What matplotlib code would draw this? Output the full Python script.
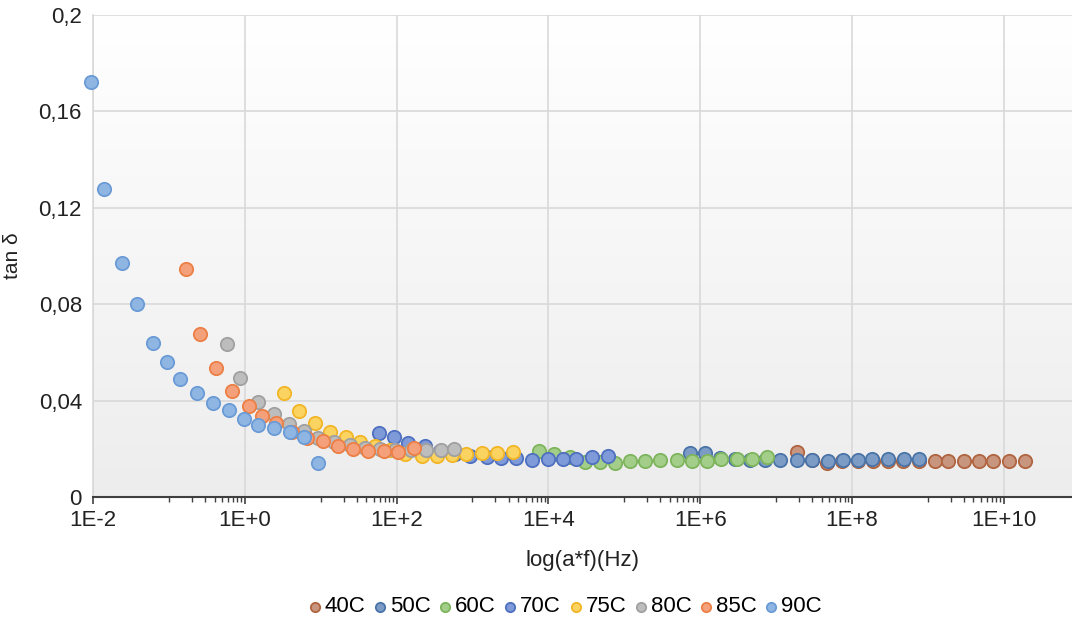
import numpy as np
import matplotlib.pyplot as plt
from matplotlib.colors import LinearSegmentedColormap
from matplotlib.ticker import FixedLocator, FuncFormatter, NullFormatter

plt.rcParams['font.family'] = ['Liberation Sans', 'DejaVu Sans']

# log10 of reduced frequency a*f (Hz) and tan delta
series = ["40C", "50C", "60C", "70C", "75C", "80C", "85C", "90C"]

logf_40 = [7.28, 7.47, 7.67, 7.87, 8.08, 8.28, 8.47, 8.67, 8.88, 9.09, 9.27, 9.48, 9.68, 9.86, 10.07, 10.28]
tan_40 = [0.0188, 0.0155, 0.0140, 0.0148, 0.0150, 0.0150, 0.0150, 0.0150, 0.0150, 0.0151, 0.0151, 0.0151, 0.0151, 0.0151, 0.0151, 0.0151]

logf_50 = [5.87, 6.06, 6.26, 6.46, 6.66, 6.85, 7.05, 7.27, 7.47, 7.69, 7.88, 8.08, 8.27, 8.48, 8.68, 8.88]
tan_50 = [0.0181, 0.0181, 0.0160, 0.0158, 0.0155, 0.0155, 0.0153, 0.0152, 0.0152, 0.0151, 0.0152, 0.0152, 0.0156, 0.0157, 0.0157, 0.0158]

logf_60 = [3.88, 4.07, 4.28, 4.48, 4.68, 4.88, 5.07, 5.27, 5.47, 5.69, 5.89, 6.09, 6.28, 6.48, 6.68, 6.88]
tan_60 = [0.0192, 0.0178, 0.0167, 0.0147, 0.0147, 0.0140, 0.0151, 0.0151, 0.0154, 0.0154, 0.0151, 0.0151, 0.0156, 0.0156, 0.0156, 0.0165]

logf_70 = [1.77, 1.96, 2.15, 2.37, 2.57, 2.77, 2.97, 3.19, 3.38, 3.58, 3.78, 3.99, 4.19, 4.37, 4.58, 4.79]
tan_70 = [0.0264, 0.0250, 0.0225, 0.0212, 0.0190, 0.0180, 0.0172, 0.0165, 0.0160, 0.0160, 0.0153, 0.0156, 0.0158, 0.0158, 0.0167, 0.0170]

logf_75 = [0.52, 0.71, 0.93, 1.12, 1.33, 1.52, 1.72, 1.91, 2.11, 2.33, 2.53, 2.73, 2.92, 3.13, 3.32, 3.53]
tan_75 = [0.0433, 0.0358, 0.0306, 0.0270, 0.0248, 0.0227, 0.0210, 0.0195, 0.0180, 0.0172, 0.0170, 0.0174, 0.0178, 0.0181, 0.0184, 0.0188]

logf_80 = [-0.23, -0.06, 0.18, 0.38, 0.58, 0.78, 0.97, 1.17, 1.38, 1.58, 1.78, 1.98, 2.19, 2.39, 2.59, 2.76]
tan_80 = [0.0635, 0.0495, 0.0393, 0.0343, 0.0302, 0.0272, 0.0245, 0.0230, 0.0215, 0.0205, 0.0198, 0.0195, 0.0193, 0.0193, 0.0195, 0.0199]

logf_85 = [-0.77, -0.59, -0.38, -0.17, 0.05, 0.23, 0.41, 0.62, 0.82, 1.03, 1.23, 1.43, 1.63, 1.83, 2.02, 2.23]
tan_85 = [0.0946, 0.0676, 0.0535, 0.0441, 0.0378, 0.0337, 0.0308, 0.0270, 0.0245, 0.0232, 0.0213, 0.0198, 0.0192, 0.0192, 0.0188, 0.0205]

logf_90 = [-2.03, -1.86, -1.62, -1.42, -1.21, -1.02, -0.85, -0.63, -0.42, -0.21, -0.01, 0.18, 0.38, 0.59, 0.78, 0.97]
tan_90 = [0.172, 0.128, 0.097, 0.080, 0.064, 0.056, 0.049, 0.043, 0.039, 0.036, 0.0325, 0.030, 0.0285, 0.027, 0.025, 0.014]

logfs = [logf_40, logf_50, logf_60, logf_70, logf_75, logf_80, logf_85, logf_90]
tans = [tan_40, tan_50, tan_60, tan_70, tan_75, tan_80, tan_85, tan_90]

fills = ["#C8957F", "#7C9CC6", "#A3CE8A", "#7E9AD8", "#FBD360", "#BDBDBD", "#F4A07A", "#8FB6E3"]
edges = ["#B0643F", "#4A74A8", "#7DB45C", "#4F70C0", "#F2B526", "#A0A0A0", "#EC7F45", "#6B9BD6"]

fig = plt.figure(figsize=(10.72, 6.24), dpi=100)
ax = fig.add_axes([93 / 1072, 1 - 497 / 624, 1 - 93 / 1072, (497 - 15) / 624])

# plot area gradient: white at the top, light grey at the bottom
grad = np.linspace(1.0, 0.0, 256).reshape(-1, 1)
ax.imshow(grad, extent=[0, 1, 0, 1], transform=ax.transAxes, aspect='auto',
          cmap=LinearSegmentedColormap.from_list("bg", ["#EDEDED", "#FFFFFF"]),
          zorder=0, interpolation='bilinear')

for name, lf, tn, fc, ec in zip(series, logfs, tans, fills, edges):
    ax.scatter(10 ** np.array(lf), tn, s=92, facecolor=fc, edgecolor=ec,
               linewidth=1.3, label=name, zorder=3, clip_on=False)

ax.set_xscale('log')
x_max = 10 ** 10.9
ax.set_xlim(1e-2, x_max)
ax.set_ylim(0, 0.2)

majors = [10.0 ** k for k in range(-2, 11, 2)]
minors = [10.0 ** (k + 1) * j for k in range(-2, 11, 2) for j in range(1, 10)
          if 10.0 ** (k + 1) * j < x_max]
ax.xaxis.set_major_locator(FixedLocator(majors))
ax.xaxis.set_minor_locator(FixedLocator(minors))
ax.xaxis.set_major_formatter(FuncFormatter(lambda v, p: "1E%+d" % round(np.log10(v))))
ax.xaxis.set_minor_formatter(NullFormatter())

ax.set_yticks([0, 0.04, 0.08, 0.12, 0.16, 0.2])
ax.yaxis.set_major_formatter(FuncFormatter(lambda v, p: ("%g" % round(v, 3)).replace('.', ',')))

ax.grid(True, which='major', color='#D9D9D9', linewidth=1.2, zorder=1)
ax.set_axisbelow(True)
for side in ['top', 'right']:
    ax.spines[side].set_visible(False)
ax.spines['left'].set_color('#D9D9D9')
ax.spines['left'].set_linewidth(1.2)
ax.spines['bottom'].set_color('#404040')
ax.spines['bottom'].set_linewidth(1.5)

ax.tick_params(axis='x', which='major', length=5, width=1.2, color='#404040',
               labelsize=16, pad=4, labelcolor='#222222')
ax.tick_params(axis='x', which='minor', length=3.5, width=1.0, color='#404040')
ax.tick_params(axis='y', which='both', length=0, labelsize=16, pad=8,
               labelcolor='#222222')

ax.set_xlabel("log(a*f)(Hz)", fontsize=16, color='#222222', labelpad=14)
ax.set_ylabel("tan δ", fontsize=15, color='#222222', labelpad=12)

fig.legend(loc='center', bbox_to_anchor=(0.527, 1 - 607 / 624), ncol=8,
           frameon=False, fontsize=16, markerscale=0.7, handletextpad=0.15,
           columnspacing=0.35, handlelength=0.6, borderpad=0)

fig.savefig("out.png", dpi=100)
